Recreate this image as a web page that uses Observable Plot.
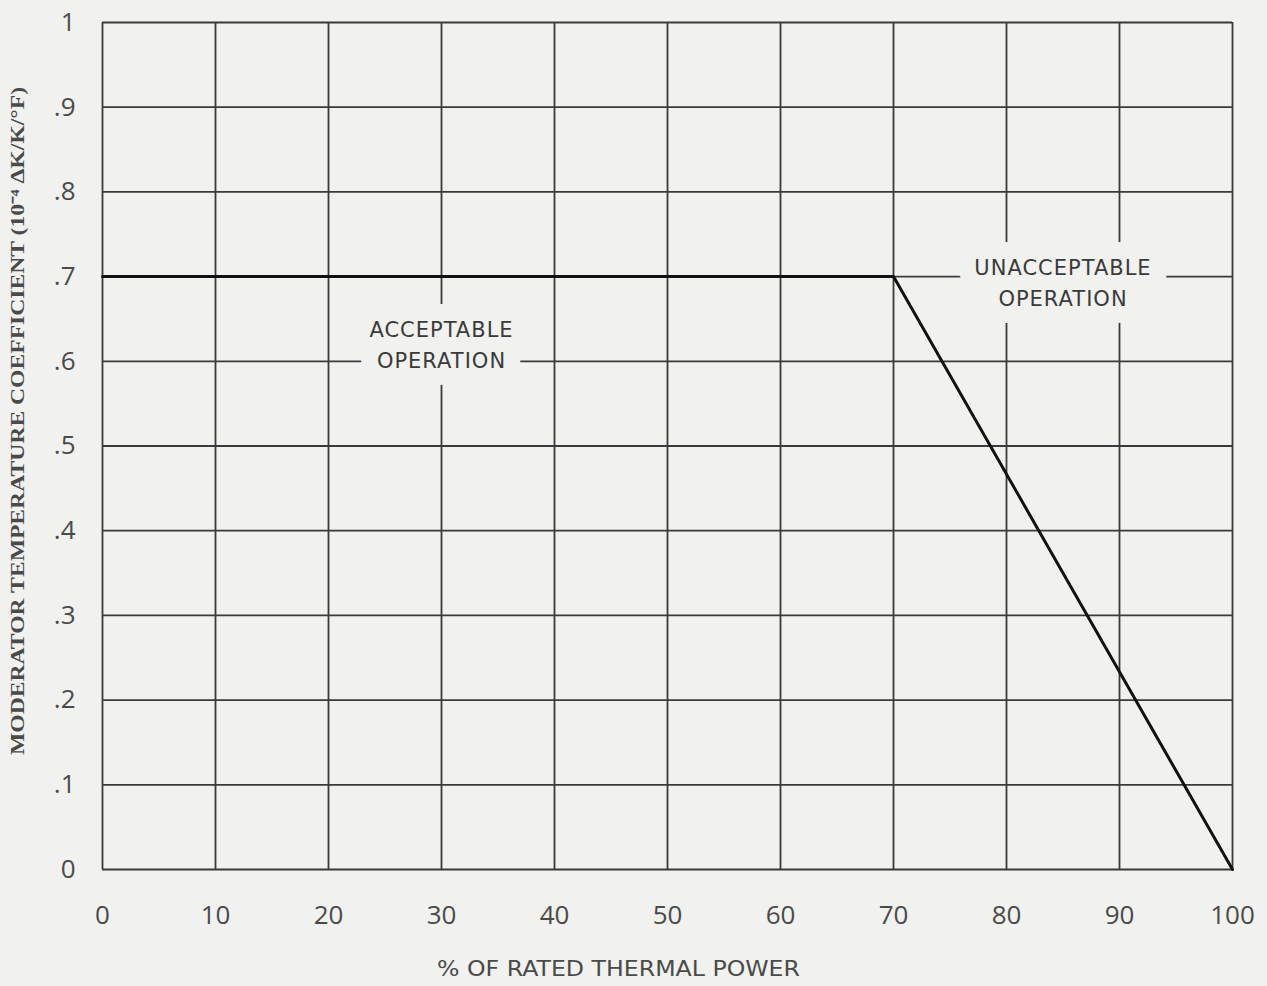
<!DOCTYPE html>
<html>
<head>
<meta charset="utf-8">
<script src="https://cdn.jsdelivr.net/npm/d3@7"></script>
<script src="https://cdn.jsdelivr.net/npm/@observablehq/plot@0.6"></script>
<style>
  html, body { margin: 0; padding: 0; background: #f1f1ef; }
</style>
</head>
<body>
<div id="chart"></div>
<script>
// Axis ticks
const xTicks = [0, 10, 20, 30, 40, 50, 60, 70, 80, 90, 100];
const yTicks = [0, 0.1, 0.2, 0.3, 0.4, 0.5, 0.6, 0.7, 0.8, 0.9, 1];
const yTickLabels = ["0", ".1", ".2", ".3", ".4", ".5", ".6", ".7", ".8", ".9", "1"];

// Limit curve
const limitPower = [0, 70, 100];
const limitCoeff = [0.7, 0.7, 0];

// Region labels
const regionText = ["ACCEPTABLE\nOPERATION", "UNACCEPTABLE\nOPERATION"];
const regionPower = [30, 85];
const regionCoeff = [0.622, 0.695];

const xLabel = "% OF RATED THERMAL POWER";
const yLabel = "MODERATOR TEMPERATURE COEFFICIENT (10\u207B\u2074 \u0394K/K/\u00B0F)";

const bg = "#f1f1ef";
const ink = "#3a3a3a";
const limit = limitPower.map((p, i) => ({power: p, coeff: limitCoeff[i]}));
const regions = regionText.map((t, i) => ({text: t, power: regionPower[i], coeff: regionCoeff[i]}));

const textOpts = {x: "power", y: "coeff", text: "text", fontSize: 21, lineHeight: 1.45, fontFamily: "DejaVu Sans"};

const chart = Plot.plot({
  width: 1267,
  height: 986,
  marginLeft: 102,
  marginRight: 35,
  marginTop: 22,
  marginBottom: 117,
  style: {background: bg, fontFamily: "Open Sans", fontSize: "26px", fontWeight: 400, color: "#4a4a4a"},
  x: {domain: [0, 100]},
  y: {domain: [0, 1]},
  marks: [
    Plot.gridX(xTicks, {stroke: ink, strokeOpacity: 1, strokeWidth: 1.8}),
    Plot.gridY(yTicks, {stroke: ink, strokeOpacity: 1, strokeWidth: 1.8}),
    // halo layers knocking out the grid behind the labels
    Plot.text(regions, {...textOpts, fill: bg, stroke: bg, strokeWidth: 34, strokeLinejoin: "round"}),
    Plot.text(regions, {...textOpts, fill: bg, stroke: bg, strokeWidth: 20, strokeLinejoin: "round"}),
    Plot.text(regions, {...textOpts, fill: bg, stroke: bg, strokeWidth: 10, strokeLinejoin: "round"}),
    Plot.line(limit, {x: "power", y: "coeff", stroke: "#111", strokeWidth: 3}),
    Plot.text(regions, {...textOpts, fill: ink}),
    Plot.axisX({ticks: xTicks, tickSize: 0, tickPadding: 36, label: xLabel, labelArrow: "none", labelAnchor: "center", labelOffset: 106}),
    Plot.axisY({ticks: yTicks, tickFormat: (d) => yTickLabels[yTicks.indexOf(d)], tickSize: 0, tickPadding: 27, label: yLabel, labelArrow: "none", labelAnchor: "center", labelOffset: 92})
  ]
});

document.getElementById("chart").appendChild(chart);

// style the axis labels
const svg = d3.select(chart);
svg.selectAll('g[aria-label="x-axis label"] text')
  .text(function() { return this.textContent.replace(/\s*[\u2190-\u2193]\s*/g, ""); })
  .style("font-family", "DejaVu Sans")
  .style("font-weight", "normal")
  .style("font-size", "21px")
  .attr("textLength", 363)
  .attr("lengthAdjust", "spacingAndGlyphs")
  .attr("transform", function() { return (this.getAttribute("transform") || "") + " translate(-49,0)"; });
svg.selectAll('g[aria-label="y-axis label"] text')
  .text(function() { return this.textContent.replace(/\s*[\u2190-\u2193]\s*/g, ""); })
  .style("font-family", "Liberation Serif")
  .style("font-weight", "bold")
  .style("font-size", "19px")
  .attr("textLength", 668)
  .attr("lengthAdjust", "spacingAndGlyphs")
  .attr("transform", function() { return (this.getAttribute("transform") || "") + " translate(25,0)"; });
svg.selectAll('g[aria-label="text"] text').style("letter-spacing", "1px").style("font-weight", "normal");
</script>
</body>
</html>
